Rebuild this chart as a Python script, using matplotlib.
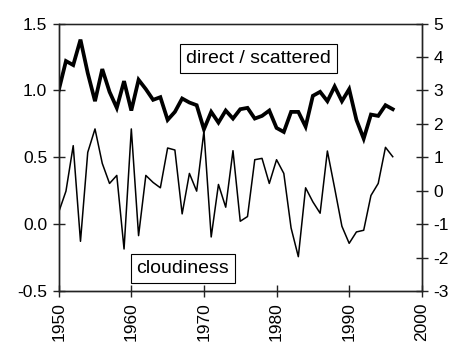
#!/usr/bin/env python

import numpy as np
import matplotlib
matplotlib.use("Agg")
import matplotlib.pyplot as plt

plt.rcParams['font.family'] = ['Liberation Sans', 'DejaVu Sans']
plt.rcParams['axes.unicode_minus'] = False

## data

years = np.arange(1950, 1997)

# ratio of direct to scattered radiation (left axis)
direct_scattered = [1.00, 1.22, 1.19, 1.38, 1.13, 0.92, 1.16, 0.99, 0.87, 1.07,
                    0.85, 1.08, 1.01, 0.93, 0.95, 0.78, 0.84, 0.94, 0.91, 0.89,
                    0.71, 0.84, 0.76, 0.85, 0.79, 0.86, 0.87, 0.79, 0.81, 0.85,
                    0.72, 0.69, 0.84, 0.84, 0.73, 0.96, 0.99, 0.92, 1.03, 0.92,
                    1.01, 0.78, 0.64, 0.82, 0.81, 0.89, 0.86]

# cloudiness anomaly (right axis)
cloudiness = [-0.64, -0.01, 1.35, -1.51, 1.15, 1.85, 0.82, 0.22, 0.46, -1.74,
              1.85, -1.34, 0.46, 0.25, 0.09, 1.28, 1.22, -0.69, 0.52, -0.01,
              1.78, -1.38, 0.19, -0.49, 1.20, -0.91, -0.77, 0.93, 0.97, 0.22,
              0.93, 0.52, -1.11, -1.97, 0.09, -0.33, -0.67, 1.19, 0.08, -1.06,
              -1.57, -1.23, -1.18, -0.14, 0.22, 1.30, 1.02]

left_ticks = [-0.5, 0.0, 0.5, 1.0, 1.5]
right_ticks = [-3, -2, -1, 0, 1, 2, 3, 4, 5]
year_ticks = [1950, 1960, 1970, 1980, 1990, 2000]


def main():
    fig = plt.figure(figsize=(4.55, 3.47), dpi=100)
    ax1 = fig.add_axes([0.129, 0.161, 0.798, 0.771])
    ax2 = ax1.twinx()

    ax1.plot(years, direct_scattered, color='black', linewidth=2.7,
             solid_joinstyle='miter', zorder=3)
    ax2.plot(years, cloudiness, color='black', linewidth=1.1, zorder=2)

    ax1.set_xlim(1950, 2000)
    ax1.set_ylim(-0.5, 1.5)
    ax2.set_ylim(-3, 5)

    ax1.set_xticks(year_ticks)
    ax1.set_xticklabels([str(y) for y in year_ticks], rotation=90)
    ax1.set_yticks(left_ticks)
    ax1.set_yticklabels(["%.1f" % v for v in left_ticks])
    ax2.set_yticks(right_ticks)
    ax2.set_yticklabels([str(v) for v in right_ticks])

    for ax in (ax1, ax2):
        ax.tick_params(direction='inout', length=8.5, width=1, labelsize=12.5,
                       color='#222222', labelcolor='black', pad=4)
        for sp in ax.spines.values():
            sp.set_color('#222222')
            sp.set_linewidth(1)
    ax1.spines['top'].set_color('#888888')

    box = dict(boxstyle='square,pad=0.3', fc='white', ec='black', lw=0.8)
    ax1.text(1977.5, 1.24, "direct / scattered", fontsize=14, ha='center',
             va='center', bbox=box, zorder=5)
    ax1.text(1967.1, -0.333, "cloudiness", fontsize=14, ha='center',
             va='center', bbox=box, zorder=5)

    fig.savefig("out.png", dpi=100)


if __name__ == "__main__":
    main()
